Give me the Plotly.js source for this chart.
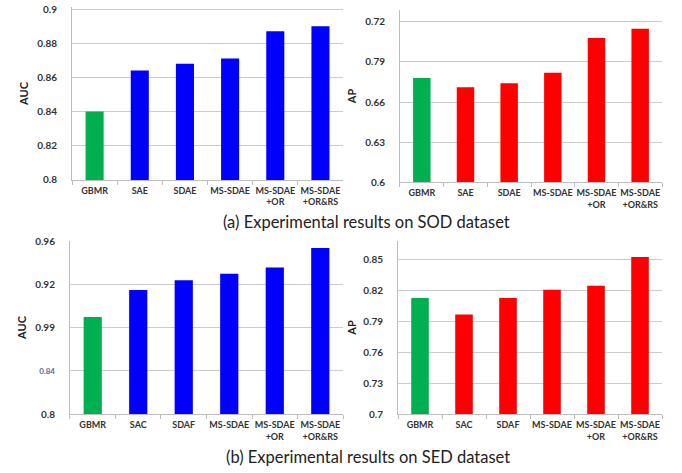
<!DOCTYPE html>
<html>
<head>
<meta charset="utf-8">
<script src="https://cdn.plot.ly/plotly-3.0.1.min.js"></script>
<style>html,body{margin:0;padding:0;background:#fff}#chart{width:682px;height:473px}</style>
</head>
<body>
<div id="chart"></div>
<script>
// Categories
const catsSOD = ["GBMR", "SAE", "SDAE", "MS-SDAE", "MS-SDAE<br>+OR", "MS-SDAE<br>+OR&RS"];
const catsSED = ["GBMR", "SAC", "SDAF", "MS-SDAE", "MS-SDAE<br>+OR", "MS-SDAE<br>+OR&RS"];

// Values
const aucSOD = [0.840, 0.864, 0.868, 0.871, 0.887, 0.890];
const apSOD  = [0.678, 0.671, 0.674, 0.682, 0.708, 0.715];
const aucSED = [0.890, 0.915, 0.924, 0.930, 0.936, 0.954];
const apSED  = [0.813, 0.797, 0.813, 0.821, 0.825, 0.853];

// Tick values and labels (as printed in the figure)
const tvAucSOD = [0.8, 0.82, 0.84, 0.86, 0.88, 0.9];
const ttAucSOD = ["0.8", "0.82", "0.84", "0.86", "0.88", "0.9"];
const tvApSOD  = [0.6, 0.63, 0.66, 0.69, 0.72];
const ttApSOD  = ["0.6", "0.63", "0.66", "0.79", "0.72"];
const tvAucSED = [0.8, 0.84, 0.88, 0.92, 0.96];
const ttAucSED = ["0.8", "<span style='color:#5b6b9a;font-size:8px'>0.84</span>", "0.99", "0.92", "0.96"];
const tvApSED  = [0.7, 0.73, 0.76, 0.79, 0.82, 0.85];
const ttApSED  = ["0.7", "0.73", "0.76", "0.79", "0.82", "0.85"];

const GREEN = "#00b050", BLUE = "#0000ff", RED = "#ff0000";
function colors(main, n) { const c = [GREEN]; for (let i = 1; i < n; i++) c.push(main); return c; }

function bar(x, y, main, xa, ya) {
  return { type: "bar", x: x, y: y, xaxis: xa, yaxis: ya,
    marker: { color: colors(main, y.length), line: { width: 0 } },
    width: 0.4, hoverinfo: "skip", showlegend: false };
}

const data = [
  bar(catsSOD, aucSOD, BLUE, "x", "y"),
  bar(catsSOD, apSOD, RED, "x2", "y2"),
  bar(catsSED, aucSED, BLUE, "x3", "y3"),
  bar(catsSED, apSED, RED, "x4", "y4")
];

const xTickFont = { family: "Lato, 'Open Sans', sans-serif", size: 9, color: "#333", weight: "bold" };
const yTickFont = { family: "Lato, 'Open Sans', sans-serif", size: 10, color: "#333", weight: "bold" };
const titleFont = { family: "Lato, 'Open Sans', sans-serif", size: 11, color: "#222", weight: "bold" };

function xax(domain, anchor) {
  return { domain: domain, anchor: anchor, type: "category",
    showline: true, linecolor: "#bdbdbd", linewidth: 1,
    ticks: "outside", tickson: "boundaries", ticklen: 4, tickcolor: "#bdbdbd",
    ticklabelstandoff: 2,
    tickfont: xTickFont, tickangle: 0, showgrid: false, fixedrange: true };
}
function yax(domain, anchor, range, tv, tt, title, standoffTitle) {
  return { domain: domain, anchor: anchor, range: range,
    tickmode: "array", tickvals: tv, ticktext: tt,
    showline: true, linecolor: "#bdbdbd", linewidth: 1,
    showgrid: true, gridcolor: "#cccccc", gridwidth: 1,
    ticks: "", ticklabelstandoff: 12,
    tickfont: yTickFont, zeroline: false, fixedrange: true,
    title: { text: title, font: titleFont, standoff: standoffTitle } };
}

const layout = {
  width: 682, height: 473,
  margin: { l: 0, r: 0, t: 0, b: 0 },
  paper_bgcolor: "#ffffff", plot_bgcolor: "#ffffff",
  bargap: 0.6,
  xaxis:  xax([0.1056, 0.503], "y"),
  yaxis:  yax([0.6195, 0.9852], "x", [0.8, 0.9012], tvAucSOD, ttAucSOD, "AUC", 6),
  xaxis2: xax([0.5865, 0.9707], "y2"),
  yaxis2: yax([0.6152, 0.9789], "x2", [0.6, 0.729], tvApSOD, ttApSOD, "AP", 6),
  xaxis3: xax([0.1026, 0.503], "y3"),
  yaxis3: yax([0.1247, 0.4905], "x3", [0.8, 0.9605], tvAucSED, ttAucSED, "AUC", 6),
  xaxis4: xax([0.5836, 0.9707], "y4"),
  yaxis4: yax([0.1247, 0.4905], "x4", [0.7, 0.8685], tvApSED, ttApSED, "AP", 4),
  annotations: [
    { text: "(a) Experimental results on SOD dataset", xref: "paper", yref: "paper",
      x: 0.537, y: 0.5307, xanchor: "center", yanchor: "middle", showarrow: false,
      font: { family: "Lato, 'Open Sans', sans-serif", size: 16.5, color: "#222" } },
    { text: "(b) Experimental results on SED dataset", xref: "paper", yref: "paper",
      x: 0.540, y: 0.0338, xanchor: "center", yanchor: "middle", showarrow: false,
      font: { family: "Lato, 'Open Sans', sans-serif", size: 16.5, color: "#222" } }
  ]
};

Plotly.newPlot("chart", data, layout, { staticPlot: true, displayModeBar: false });
</script>
</body>
</html>
